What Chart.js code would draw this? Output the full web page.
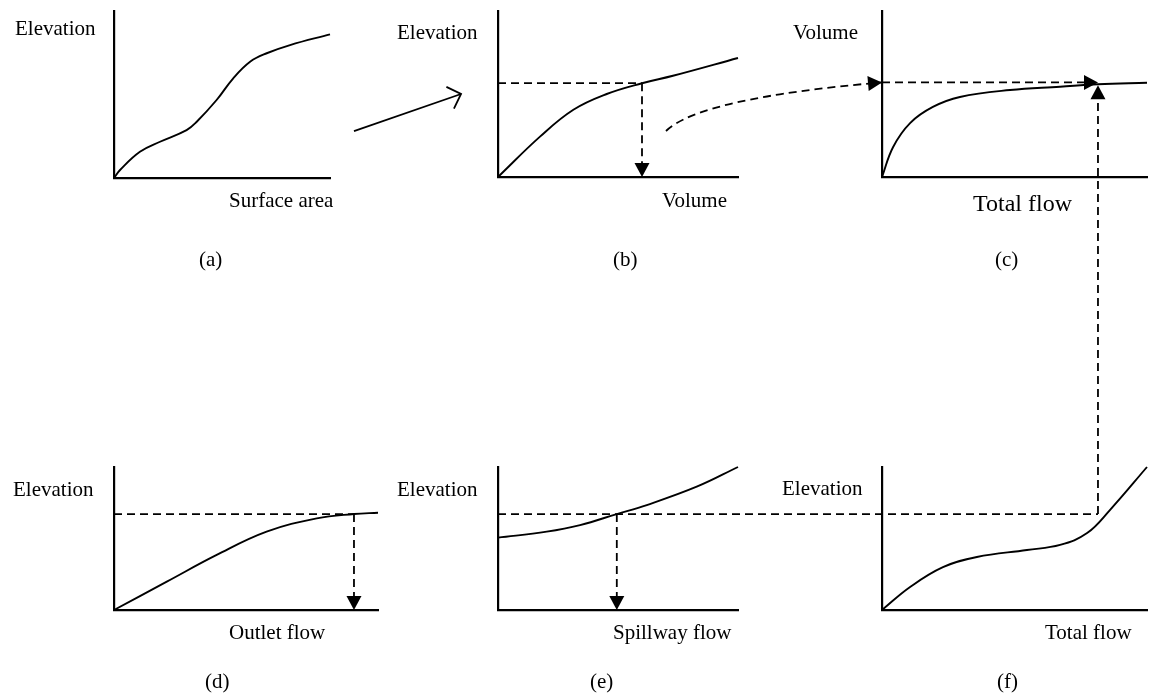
<!DOCTYPE html>
<html>
<head>
<meta charset="utf-8">
<script src="https://cdn.jsdelivr.net/npm/chart.js@4.4.1/dist/chart.umd.min.js"></script>
<style>
  html, body { margin: 0; padding: 0; background: #fff; }
  #page { position: relative; width: 1152px; height: 696px; overflow: hidden; }
  #page canvas { position: absolute; left: 0; top: 0; }
  .lbl { position: absolute; font-family: "Liberation Serif", "Times New Roman", serif;
         color: #000; white-space: nowrap; }
</style>
</head>
<body>
<div id="page"></div>
<script>
// curve shapes, every panel in 0..10 units on both axes
// (a) elevation vs surface area
const surfaceArea = [0, 0.28, 1.2, 2.13, 3.36, 3.83, 4.75, 5.52, 6.3, 7.07, 8.15, 10];
const elevA       = [0, 0.48, 1.57, 2.17, 2.87, 3.37, 4.67, 5.97, 6.96, 7.47, 7.96, 8.6];
// (b) elevation vs volume
const volumeB = [0, 1.75, 3.14, 4.53, 6.0, 7.29, 10];
const elevB   = [0, 2.43, 4.05, 5.0, 5.65, 6.1, 7.17];
// (c) volume vs total flow
const totalFlowC = [0, 0.42, 1.06, 1.92, 2.94, 4.83, 6.72, 8.15, 10];
const volumeC    = [0, 1.81, 3.25, 4.22, 4.82, 5.24, 5.44, 5.59, 5.68];
// (d) elevation vs outlet flow
const outletFlow = [0, 2.0, 3.89, 5.78, 7.68, 9.09, 10];
const elevD      = [0, 1.98, 3.85, 5.48, 6.41, 6.71, 6.8];
// (e) elevation vs spillway flow
const spillFlow = [0, 2.03, 3.42, 4.95, 6.2, 8.28, 10];
const elevE     = [5.06, 5.48, 5.94, 6.71, 7.34, 8.62, 10];
// (f) elevation vs total flow
const totalFlowF = [0, 1.06, 2.3, 3.58, 5.47, 6.72, 7.74, 8.6, 10];
const elevF      = [0, 1.61, 3.0, 3.71, 4.2, 4.55, 5.38, 6.99, 10];

// values picked off by the dashed guides
const LEVEL = 6.71;      // reservoir elevation in (d), (e), (f)
const OUTLET_Q = 9.09;
const SPILL_Q = 4.95;
const TOTAL_Q = 8.15;    // total flow, shared by (c) and (f)
const VOL_B = 6.0, ELEV_B = 5.65;
const VOL_C = 5.7, VOL_C_AT_Q = 5.52;

const W = 1152, H = 696;
// chart area of each panel: left, top, right, bottom
const panelBox = {
  a: [114, 11, 330, 178],
  b: [498, 11, 738, 177],
  c: [882, 11, 1147, 177],
  d: [114, 467, 378, 610],
  e: [498, 467, 738, 610],
  f: [882, 467, 1147, 610]
};

const labels = [
  ['Elevation', 15, 36, 21], ['Surface area', 229, 208, 21], ['(a)', 199, 267, 21],
  ['Elevation', 397, 40, 21], ['Volume', 662, 208, 21], ['(b)', 613, 267, 21],
  ['Volume', 793, 40, 21], ['Total flow', 973, 211, 24], ['(c)', 995, 267, 21],
  ['Elevation', 13, 497, 21], ['Outlet flow', 229, 640, 21], ['(d)', 205, 689, 21],
  ['Elevation', 397, 497, 21], ['Spillway flow', 613, 640, 21], ['(e)', 590, 689, 21],
  ['Elevation', 782, 496, 21], ['Total flow', 1045, 640, 21], ['(f)', 997, 689, 21]
];

const guides = [
  { from: ['b', 0, ELEV_B], to: ['b', VOL_B, ELEV_B] },
  { from: ['b', VOL_B, ELEV_B], to: ['b', VOL_B, 0], head: 'fill' },
  { from: ['b', 7.0, 2.77], ctrl: ['b', 8.42, 4.76], to: ['c', 0, VOL_C], head: 'fill' },
  { from: ['c', 0, VOL_C], to: ['c', TOTAL_Q, VOL_C], head: 'fill' },
  { from: ['d', 0, LEVEL], to: ['d', OUTLET_Q, LEVEL] },
  { from: ['d', OUTLET_Q, LEVEL], to: ['d', OUTLET_Q, 0], head: 'fill' },
  { from: ['e', 0, LEVEL], to: ['f', TOTAL_Q, LEVEL] },
  { from: ['e', SPILL_Q, LEVEL], to: ['e', SPILL_Q, 0], head: 'fill' },
  { from: ['f', TOTAL_Q, LEVEL], to: ['c', TOTAL_Q, VOL_C_AT_Q], head: 'fill' },
  { from: ['a', 11.11, 2.81], to: ['b', -1.54, 5.0], head: 'open', solid: true }
];

const page = document.getElementById('page');
const charts = {};

function pts(xs, ys) {
  return xs.map((x, i) => ({ x: x, y: ys[i] }));
}

function axis() {
  return {
    type: 'linear', min: 0, max: 10,
    grid: { display: false, drawTicks: false },
    ticks: { display: false },
    border: { display: true, color: '#000', width: 2.2 }
  };
}

function makePanel(id, xs, ys) {
  const [l, t, r, b] = panelBox[id];
  const canvas = document.createElement('canvas');
  canvas.width = W;
  canvas.height = H;
  page.appendChild(canvas);
  charts[id] = new Chart(canvas, {
    type: 'line',
    data: {
      datasets: [{
        data: pts(xs, ys),
        borderColor: '#000',
        borderWidth: 1.9,
        pointRadius: 0,
        fill: false,
        tension: 0.4,
        clip: false
      }]
    },
    options: {
      responsive: false,
      animation: false,
      events: [],
      layout: { padding: { left: l, top: t, right: W - r, bottom: H - b } },
      plugins: { legend: { display: false }, tooltip: { enabled: false } },
      scales: { x: axis(), y: axis() }
    }
  });
}

makePanel('a', surfaceArea, elevA);
makePanel('b', volumeB, elevB);
makePanel('c', totalFlowC, volumeC);
makePanel('d', outletFlow, elevD);
makePanel('e', spillFlow, elevE);
makePanel('f', totalFlowF, elevF);

// map a panel value to page pixels through that panel's scales
function px(ref) {
  const c = charts[ref[0]];
  return { x: c.scales.x.getPixelForValue(ref[1]), y: c.scales.y.getPixelForValue(ref[2]) };
}

function arrowHead(ctx, tip, from, open) {
  const dx = tip.x - from.x, dy = tip.y - from.y;
  const d = Math.hypot(dx, dy);
  const ux = dx / d, uy = dy / d;
  const len = open ? 11.5 : 14, half = open ? 11.5 : 7.5;
  const bx = tip.x - ux * len, by = tip.y - uy * len;
  ctx.setLineDash([]);
  ctx.beginPath();
  if (open) {
    ctx.moveTo(bx - uy * half, by + ux * half);
    ctx.lineTo(tip.x, tip.y);
    ctx.lineTo(bx + uy * half, by - ux * half);
    ctx.stroke();
  } else {
    ctx.moveTo(tip.x, tip.y);
    ctx.lineTo(bx - uy * half, by + ux * half);
    ctx.lineTo(bx + uy * half, by - ux * half);
    ctx.closePath();
    ctx.fill();
  }
  return { x: bx, y: by };
}

const guidePlugin = {
  id: 'guides',
  afterDraw(chart) {
    const ctx = chart.ctx;
    ctx.save();
    ctx.strokeStyle = '#000';
    ctx.fillStyle = '#000';
    ctx.lineWidth = 1.8;
    guides.forEach(g => {
      const a = px(g.from), b = px(g.to);
      const c = g.ctrl ? px(g.ctrl) : null;
      let end = b;
      if (g.head) {
        const base = arrowHead(ctx, b, c || a, g.head === 'open');
        if (g.head === 'fill' && !c) end = base;
      }
      ctx.setLineDash(g.solid ? [] : [8, 5]);
      ctx.beginPath();
      ctx.moveTo(a.x, a.y);
      if (c) ctx.quadraticCurveTo(c.x, c.y, end.x, end.y);
      else ctx.lineTo(end.x, end.y);
      ctx.stroke();
    });
    ctx.restore();
  }
};

const overlay = document.createElement('canvas');
overlay.width = W;
overlay.height = H;
page.appendChild(overlay);
new Chart(overlay, {
  type: 'scatter',
  data: { datasets: [] },
  options: {
    responsive: false,
    animation: false,
    events: [],
    plugins: { legend: { display: false }, tooltip: { enabled: false } },
    scales: { x: { display: false }, y: { display: false } }
  },
  plugins: [guidePlugin]
});

labels.forEach(([text, x, baseline, size]) => {
  const el = document.createElement('div');
  el.className = 'lbl';
  el.textContent = text;
  el.style.fontSize = size + 'px';
  el.style.lineHeight = size + 'px';
  el.style.left = x + 'px';
  el.style.top = (baseline - 0.8375 * size) + 'px';
  page.appendChild(el);
});
</script>
</body>
</html>
